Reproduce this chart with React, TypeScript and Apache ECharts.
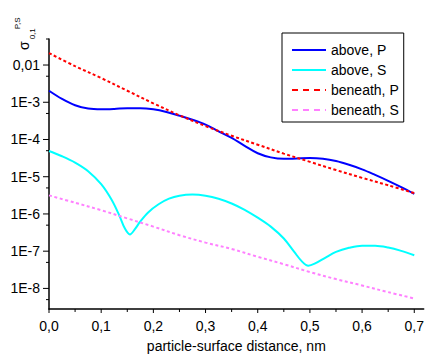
import React, { useEffect, useRef } from 'react';
import * as echarts from 'echarts';

const FONT = '"Liberation Sans", Arial, Helvetica, sans-serif';

const seriesNames = ['above, P', 'above, S', 'beneath, P', 'beneath, S'];
const seriesColors = ['#0000ff', '#00ffff', '#ff0000', '#ff80ff'];

// above, P (blue)
const abovePX = [0, 0.025, 0.05, 0.075, 0.1, 0.125, 0.15, 0.175, 0.2, 0.225, 0.25, 0.275, 0.3, 0.325, 0.35,
  0.375, 0.4, 0.425, 0.45, 0.475, 0.5, 0.525, 0.55, 0.575, 0.6, 0.625, 0.65, 0.675, 0.7];
const abovePY = [2.04e-3, 1.23e-3, 8.32e-4, 6.76e-4, 6.46e-4, 6.61e-4, 6.92e-4, 6.92e-4, 6.46e-4, 5.5e-4,
  4.37e-4, 3.39e-4, 2.51e-4, 1.66e-4, 1.1e-4, 6.76e-5, 4.27e-5, 3.31e-5, 3.02e-5, 3.09e-5, 3.16e-5,
  3.02e-5, 2.63e-5, 2.09e-5, 1.58e-5, 1.12e-5, 7.76e-6, 5.25e-6, 3.47e-6];

// above, S (cyan)
const aboveSX = [0, 0.025, 0.05, 0.075, 0.1, 0.12, 0.135, 0.145, 0.155, 0.165, 0.175, 0.19, 0.21, 0.23, 0.25,
  0.275, 0.3, 0.325, 0.35, 0.375, 0.4, 0.425, 0.45, 0.47, 0.485, 0.497, 0.51, 0.53, 0.55, 0.575, 0.6,
  0.625, 0.65, 0.675, 0.7];
const aboveSY = [4.9e-5, 3.55e-5, 2.4e-5, 1.41e-5, 6.31e-6, 2.4e-6, 8.91e-7, 4.17e-7, 2.82e-7, 3.98e-7,
  6.31e-7, 1.1e-6, 1.82e-6, 2.57e-6, 3.09e-6, 3.31e-6, 3.09e-6, 2.57e-6, 1.91e-6, 1.29e-6, 7.94e-7,
  4.57e-7, 2.19e-7, 9.55e-8, 5.25e-8, 4.07e-8, 4.68e-8, 6.76e-8, 9.55e-8, 1.23e-7, 1.41e-7, 1.41e-7,
  1.26e-7, 1.02e-7, 7.76e-8];

// beneath, P and beneath, S
const beneathX = [0, 0.05, 0.1, 0.15, 0.2, 0.25, 0.3, 0.35, 0.4, 0.45, 0.5, 0.55, 0.6, 0.65, 0.7];
const beneathPY = [2.09e-2, 9.33e-3, 4.47e-3, 2.04e-3, 9.33e-4, 4.47e-4, 2.29e-4, 1.26e-4, 7.24e-5,
  4.17e-5, 2.51e-5, 1.51e-5, 9.33e-6, 5.89e-6, 3.63e-6];
const beneathSY = [3.16e-6, 2.0e-6, 1.26e-6, 7.59e-7, 4.57e-7, 2.69e-7, 1.7e-7, 1.15e-7, 7.08e-8,
  4.47e-8, 2.75e-8, 1.78e-8, 1.2e-8, 7.94e-9, 5.37e-9];

// axes
const X_MIN = 0;
const X_MAX = 0.718;
const Y_MIN = 2.8e-9;
const Y_MAX = 0.05;
const xMajorTicks = [0, 0.1, 0.2, 0.3, 0.4, 0.5, 0.6, 0.7];
const xMinorTicks = [0.05, 0.15, 0.25, 0.35, 0.45, 0.55, 0.65];
const yMajorTicks = [1e-8, 1e-7, 1e-6, 1e-5, 1e-4, 1e-3, 1e-2];
const yMinorTicks = [5e-9, 5e-8, 5e-7, 5e-6, 5e-5, 5e-4, 5e-3, 5e-2];

const zip = (xs: number[], ys: number[]) => xs.map((x, i) => [x, ys[i]]);

function tickSeries(values: number[], len: number, axis: 'x' | 'y') {
  const data = values.map((v) => (axis === 'y' ? [X_MIN, v] : [v, Y_MIN]));
  return {
    type: 'custom',
    silent: true,
    clip: false,
    z: 5,
    data,
    renderItem: (params: any, api: any) => {
      const p = api.coord([api.value(0), api.value(1)]);
      const shape = axis === 'y'
        ? { x1: p[0] - len, y1: p[1], x2: p[0], y2: p[1] }
        : { x1: p[0], y1: p[1], x2: p[0], y2: p[1] + len };
      return { type: 'line', shape, style: { stroke: '#000', lineWidth: 1 } };
    },
  };
}

const rotText = (text: string, x: number, y: number, size: number) => ({
  type: 'text',
  x,
  y,
  rotation: Math.PI / 2,
  style: { text, fontSize: size, fontFamily: FONT, fill: '#000', align: 'center', verticalAlign: 'middle' },
});

export default function App() {
  const ref = useRef<HTMLDivElement>(null);
  useEffect(() => {
    if (!ref.current) return;
    const chart = echarts.init(ref.current, null, { renderer: 'svg' });
    const lineData = [zip(abovePX, abovePY), zip(aboveSX, aboveSY), zip(beneathX, beneathPY), zip(beneathX, beneathSY)];
    const dashes: any[] = ['solid', 'solid', [3, 2.4], [3, 2.6]];
    const legendDash: any[] = ['solid', 'solid', [6, 5], [6, 5]];
    chart.setOption({
      animation: false,
      backgroundColor: '#fff',
      textStyle: { fontFamily: FONT },
      grid: { left: 49, top: 39, right: 0, bottom: 44, containLabel: false },
      legend: {
        orient: 'vertical',
        left: 282,
        top: 33,
        padding: [10, 5, 5, 9],
        itemWidth: 34,
        itemHeight: 14,
        itemGap: 6,
        borderColor: '#000',
        borderWidth: 1,
        selectedMode: false,
        itemStyle: { opacity: 0 },
        textStyle: { fontSize: 14, color: '#000', fontFamily: FONT },
        data: seriesNames.map((n, i) => ({ name: n, itemStyle: { opacity: 0 }, lineStyle: { type: legendDash[i] } })),
      },
      xAxis: {
        type: 'value',
        min: X_MIN,
        max: X_MAX,
        interval: 0.1,
        splitLine: { show: false },
        axisTick: { show: false },
        minorTick: { show: false },
        axisLine: { lineStyle: { color: '#000', width: 1.5 } },
        axisLabel: {
          color: '#000',
          fontSize: 14,
          fontFamily: FONT,
          margin: 10,
          showMaxLabel: false,
          formatter: (v: number) => v.toFixed(1).replace('.', ','),
        },
        name: 'particle-surface distance, nm',
        nameLocation: 'middle',
        nameGap: 30,
        nameTextStyle: { fontSize: 14, color: '#000', fontFamily: FONT },
      },
      yAxis: {
        type: 'log',
        logBase: 10,
        min: Y_MIN,
        max: Y_MAX,
        splitNumber: 10,
        splitLine: { show: false },
        axisTick: { show: false },
        axisLine: { show: true, lineStyle: { color: '#000', width: 1.5 } },
        axisLabel: {
          color: '#000',
          fontSize: 14,
          fontFamily: FONT,
          margin: 9,
          showMinLabel: false,
          showMaxLabel: false,
          formatter: (v: number) => {
            const l = Math.log10(v);
            const e = Math.round(l);
            if (Math.abs(l - e) > 0.01) return '';
            if (e === -2) return '0,01';
            return '1E' + e;
          },
        },
      },
      graphic: [
        rotText('σ', 24, 45.7, 14),
        rotText('0,1', 32.7, 33.8, 8),
        rotText('P,S', 17.8, 23.3, 8),
      ],
      series: [
        ...seriesNames.map((n, i) => ({
          name: n,
          type: 'line',
          data: lineData[i],
          smooth: 0.35,
          symbol: 'none',
          showSymbol: false,
          lineStyle: { color: seriesColors[i], width: 2, type: dashes[i] },
          itemStyle: { color: seriesColors[i] },
          z: 2 + i,
        })),
        tickSeries(yMajorTicks, 6, 'y'),
        tickSeries(yMinorTicks, 3, 'y'),
        tickSeries(xMajorTicks, 4, 'x'),
        tickSeries(xMinorTicks, 3, 'x'),
      ],
    });
    return () => chart.dispose();
  }, []);
  return <div ref={ref} style={{ position: 'absolute', left: 0, top: 0, width: 427, height: 358, background: '#fff' }} />;
}
